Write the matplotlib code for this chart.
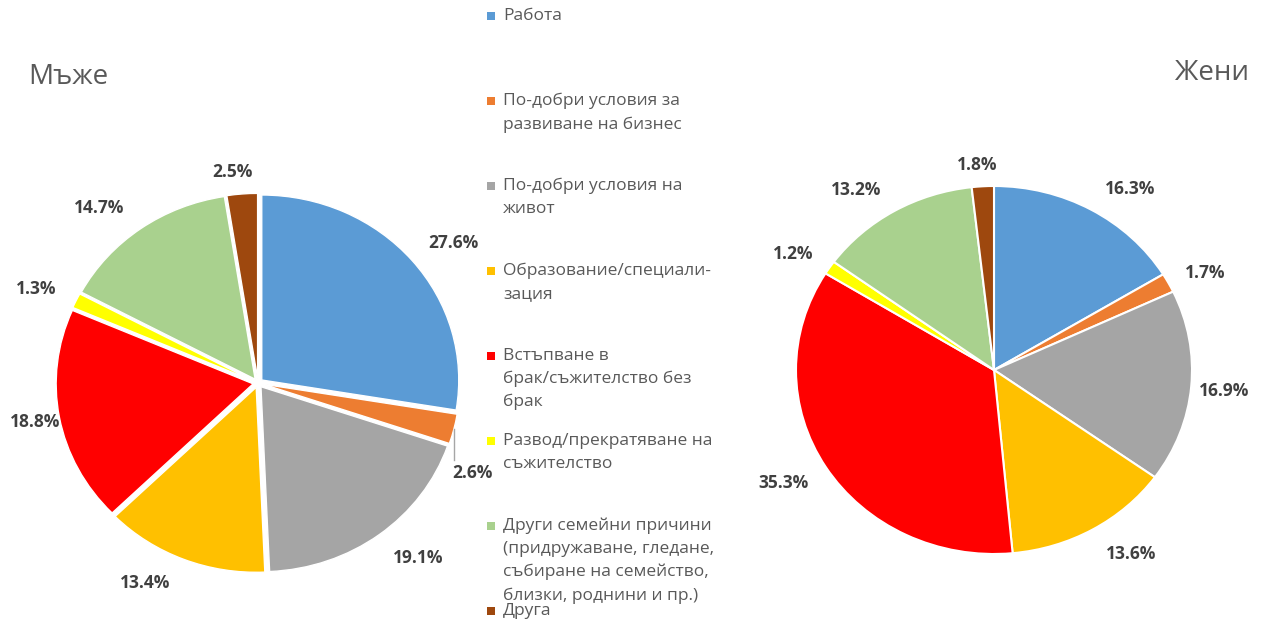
import numpy as np
import matplotlib.pyplot as plt
from matplotlib.patches import Rectangle

plt.rcParams['font.family'] = ['Open Sans', 'DejaVu Sans']

# Данни
categories = [
    'Работа',
    'По-добри условия за\nразвиване на бизнес',
    'По-добри условия на\nживот',
    'Образование/специали-\nзация',
    'Встъпване в\nбрак/съжителство без\nбрак',
    'Развод/прекратяване на\nсъжителство',
    'Други семейни причини\n(придружаване, гледане,\nсъбиране на семейство,\nблизки, роднини и пр.)',
    'Друга',
]
men = [27.6, 2.6, 19.1, 13.4, 18.8, 1.3, 14.7, 2.5]
women = [16.3, 1.7, 16.9, 13.6, 35.3, 1.2, 13.2, 1.8]

colors = ['#5B9BD5', '#ED7D31', '#A5A5A5', '#FFC000',
          '#FF0000', '#FFFF00', '#A9D18E', '#9E480E']

# разположение на етикетите (разстояние от центъра и отместване в градуси)
men_dist = [1.246, 1.19, 1.247, 1.224, 1.151, 1.236, 1.243, 1.148]
men_nudge = [-2.9, -10.0, 3.7, -6.4, 0.2, 1.4, 5.0, 1.9]
women_dist = [1.2, 1.19, 1.168, 1.216, 1.23, 1.195, 1.2, 1.117]
women_nudge = [-5.6, -2.1, -0.4, 4.8, -1.9, 2.0, 5.1, 1.0]

W, H = 1263, 623
fig = plt.figure(figsize=(W / 100, H / 100), dpi=100)


def pie_axes(cx, cy, rx, ry, lim=1.3):
    w = 2 * lim * rx
    h = 2 * lim * ry
    ax = fig.add_axes([(cx - w / 2) / W, (H - cy - h / 2) / H, w / W, h / H])
    return ax


def draw_pie(ax, vals, explode, dists, nudges, lw):
    wedges, _ = ax.pie(vals, colors=colors, startangle=90, counterclock=False,
                       explode=[explode] * len(vals),
                       wedgeprops=dict(edgecolor='white', linewidth=lw))
    ax.set_aspect('auto')
    ax.set_xlim(-1.3, 1.3)
    ax.set_ylim(-1.3, 1.3)
    ax.axis('off')
    for w, v, d, n in zip(wedges, vals, dists, nudges):
        ang = np.deg2rad((w.theta1 + w.theta2) / 2 + n)
        ax.text(d * np.cos(ang), d * np.sin(ang), f'{v:.1f}%',
                ha='center', va='center', fontsize=12.5, fontweight='bold',
                color='#404040')
    return wedges


ax1 = pie_axes(258, 383, 197, 185)
wm = draw_pie(ax1, men, 0.025, men_dist, men_nudge, 1.0)

# водеща линия за 2.6%
w = wm[1]
mid = np.deg2rad((w.theta1 + w.theta2) / 2)
ex, ey = 1.025 * np.cos(mid), 1.025 * np.sin(mid)
lab = np.deg2rad((w.theta1 + w.theta2) / 2 + men_nudge[1])
ly = men_dist[1] * np.sin(lab)
ax1.plot([ex, ex], [ey, ly + 0.07], color='#A6A6A6', lw=1)

ax2 = pie_axes(994, 370, 198, 184)
draw_pie(ax2, women, 0, women_dist, women_nudge, 1.5)

# заглавия
fig.text(68 / W, 1 - 77 / H, 'Мъже', ha='center', va='center',
         fontsize=20, color='#595959')
fig.text(1212 / W, 1 - 73 / H, 'Жени', ha='center', va='center',
         fontsize=20, color='#595959')

# легенда
for i, (lab, c) in enumerate(zip(categories, colors)):
    y = 16 + 85 * i
    fig.add_artist(Rectangle(((487) / W, 1 - (y + 4) / H), 8 / W, 8 / H,
                             transform=fig.transFigure, color=c, lw=0))
    fig.text(503 / W, 1 - (y - 8) / H, lab, ha='left', va='top',
             fontsize=12.5, color='#595959', linespacing=1.55)

fig.savefig('out.png', dpi=100)
